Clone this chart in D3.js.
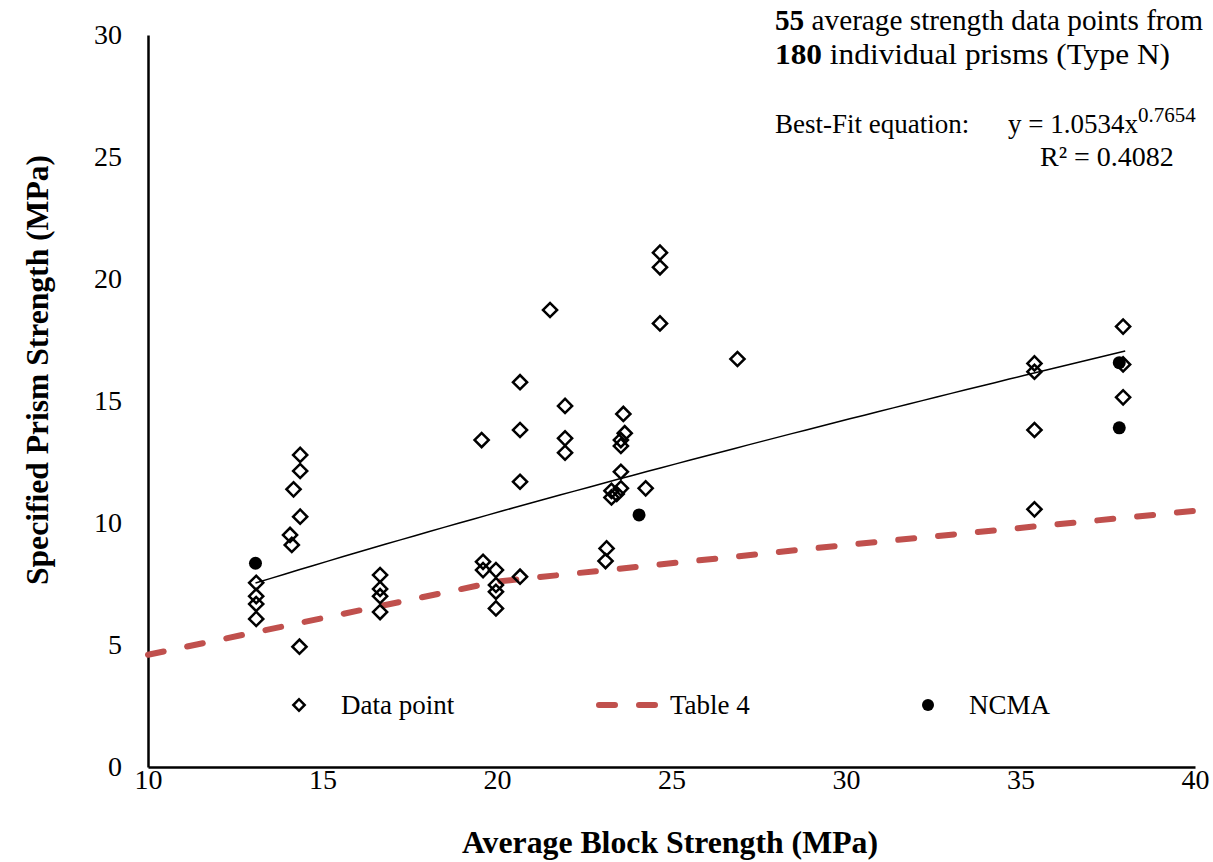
<!DOCTYPE html>
<html>
<head>
<meta charset="utf-8">
<script src="https://cdn.jsdelivr.net/npm/d3@7"></script>
<style>
  body { margin: 0; background: #fff; }
  svg text { font-family: "Liberation Serif", "Times New Roman", serif; fill: #000; }
</style>
</head>
<body>
<svg id="chart" width="1213" height="862"></svg>
<script>
// data points (average block strength, specified prism strength)
var blockStrength = [13.1, 13.1, 13.1, 13.1,
  14.36, 14.36, 14.17, 14.36, 14.07, 14.12, 14.34,
  16.65, 16.65, 16.65, 16.65,
  19.56, 19.6, 19.6,
  19.97, 19.97, 19.97, 19.97,
  20.66, 20.66, 20.66, 20.66,
  21.52, 21.95, 21.95, 21.95,
  23.11, 23.14, 23.28, 23.28, 23.43,
  23.55, 23.55, 23.55, 23.55, 23.66, 23.62, 24.26,
  24.67, 24.67, 24.67, 26.89,
  35.4, 35.4, 35.4, 35.4,
  37.94, 37.94, 37.94];
var prismStrength = [7.55, 7.0, 6.68, 6.07,
  12.79, 12.13, 11.38, 10.26, 9.51, 9.1, 4.93,
  7.87, 7.3, 7.0, 6.35,
  13.4, 8.41, 8.07,
  8.07, 7.46, 7.18, 6.5,
  15.77, 13.81, 11.69, 7.8,
  18.73, 14.8, 13.47, 12.88,
  8.44, 8.96, 11.32, 11.05, 11.19,
  11.42, 12.1, 13.16, 13.4, 13.68, 14.47, 11.42,
  21.08, 20.48, 18.18, 16.72,
  16.54, 16.2, 13.81, 10.56,
  18.05, 16.5, 15.15];

var ncmaBlock = [13.08, 24.07, 37.83, 37.83];
var ncmaPrism = [8.35, 10.33, 16.57, 13.9];

var table4Block = [10, 15, 20, 30, 40];
var table4Prism = [4.6, 6.1, 7.6, 9.1, 10.5];

// best-fit y = a * x^b
var fitA = 1.0534, fitB = 0.7654;
var fitFrom = 13.08, fitTo = 38;

var xTicks = [10, 15, 20, 25, 30, 35, 40];
var yTicks = [0, 5, 10, 15, 20, 25, 30];

var svg = d3.select("#chart");

var x = d3.scaleLinear().domain([10, 40]).range([148, 1195]);
var y = d3.scaleLinear().domain([0, 30]).range([767, 35]);

// axes
var yAxis = svg.append("g")
  .attr("transform", "translate(148,0)")
  .call(d3.axisLeft(y).tickValues(yTicks).tickSize(0).tickPadding(26));
var xAxis = svg.append("g")
  .attr("transform", "translate(0,767)")
  .call(d3.axisBottom(x).tickValues(xTicks).tickSize(0).tickPadding(2));

[xAxis, yAxis].forEach(function (g) {
  g.select(".domain").attr("stroke", "#000").attr("stroke-width", 2.5);
  g.selectAll("text")
    .style("font-family", '"Liberation Serif", "Times New Roman", serif')
    .attr("font-size", "28px")
    .attr("fill", "#000");
});

// axis titles
svg.append("text")
  .attr("x", 670).attr("y", 853)
  .attr("text-anchor", "middle")
  .attr("font-size", "31px").attr("font-weight", "bold")
  .attr("textLength", 416).attr("lengthAdjust", "spacingAndGlyphs")
  .text("Average Block Strength (MPa)");

svg.append("text")
  .attr("transform", "translate(48,370) rotate(-90)")
  .attr("text-anchor", "middle")
  .attr("font-size", "32px").attr("font-weight", "bold")
  .attr("textLength", 430).attr("lengthAdjust", "spacingAndGlyphs")
  .text("Specified Prism Strength (MPa)");

// Table 4 dashed line
var line = d3.line().x(function (d) { return x(d[0]); }).y(function (d) { return y(d[1]); });
svg.append("path")
  .datum(d3.zip(table4Block, table4Prism))
  .attr("d", line)
  .attr("fill", "none")
  .attr("stroke", "#C0504D")
  .attr("stroke-width", 6)
  .attr("stroke-linecap", "round")
  .attr("stroke-dasharray", "16,24");

// best-fit curve
var fitPts = d3.range(fitFrom, fitTo + 0.001, (fitTo - fitFrom) / 60).map(function (v) {
  return [v, fitA * Math.pow(v, fitB)];
});
svg.append("path")
  .datum(fitPts)
  .attr("d", line)
  .attr("fill", "none")
  .attr("stroke", "#000")
  .attr("stroke-width", 1.5);

// diamonds
var diamond = d3.symbol().type(d3.symbolSquare).size(100);
svg.append("g").selectAll("path")
  .data(d3.zip(blockStrength, prismStrength))
  .enter()
  .append("path")
  .attr("d", diamond)
  .attr("transform", function (d) { return "translate(" + x(d[0]) + "," + y(d[1]) + ") rotate(45)"; })
  .attr("fill", "none")
  .attr("stroke", "#000")
  .attr("stroke-width", 2.5);

// NCMA
svg.append("g").selectAll("circle")
  .data(d3.zip(ncmaBlock, ncmaPrism))
  .enter()
  .append("circle")
  .attr("cx", function (d) { return x(d[0]); })
  .attr("cy", function (d) { return y(d[1]); })
  .attr("r", 6.5)
  .attr("fill", "#000");

// legend
var lg = svg.append("g").attr("font-size", "27px");
lg.append("path")
  .attr("d", d3.symbol().type(d3.symbolSquare).size(64))
  .attr("transform", "translate(299,705) rotate(45)")
  .attr("fill", "none").attr("stroke", "#000").attr("stroke-width", 2.5);
lg.append("text").attr("x", 341).attr("y", 714).text("Data point");
lg.append("line")
  .attr("x1", 599).attr("x2", 655).attr("y1", 705).attr("y2", 705)
  .attr("stroke", "#C0504D").attr("stroke-width", 6)
  .attr("stroke-linecap", "round").attr("stroke-dasharray", "16,24");
lg.append("text").attr("x", 670).attr("y", 714).text("Table 4");
lg.append("circle").attr("cx", 928).attr("cy", 705).attr("r", 6).attr("fill", "#000");
lg.append("text").attr("x", 969).attr("y", 714).text("NCMA");

// annotation
var note = svg.append("g").attr("font-size", "29px");
var t1 = note.append("text").attr("x", 775).attr("y", 30)
  .attr("textLength", 428).attr("lengthAdjust", "spacingAndGlyphs");
t1.append("tspan").attr("font-weight", "bold").text("55");
t1.append("tspan").text(" average strength data points from");
var t2 = note.append("text").attr("x", 775).attr("y", 64)
  .attr("textLength", 395).attr("lengthAdjust", "spacingAndGlyphs");
t2.append("tspan").attr("font-weight", "bold").text("180");
t2.append("tspan").text(" individual prisms (Type N)");
note.append("text").attr("x", 775).attr("y", 133).attr("font-size", "27px").text("Best-Fit equation:");
var t3 = note.append("text").attr("x", 1008).attr("y", 133).attr("font-size", "27px");
t3.append("tspan").text("y = " + fitA + "x");
t3.append("tspan").attr("font-size", "21px").attr("dy", -11).text(fitB);
note.append("text").attr("x", 1040).attr("y", 166).attr("font-size", "28px").text("R² = 0.4082");
</script>
</body>
</html>
